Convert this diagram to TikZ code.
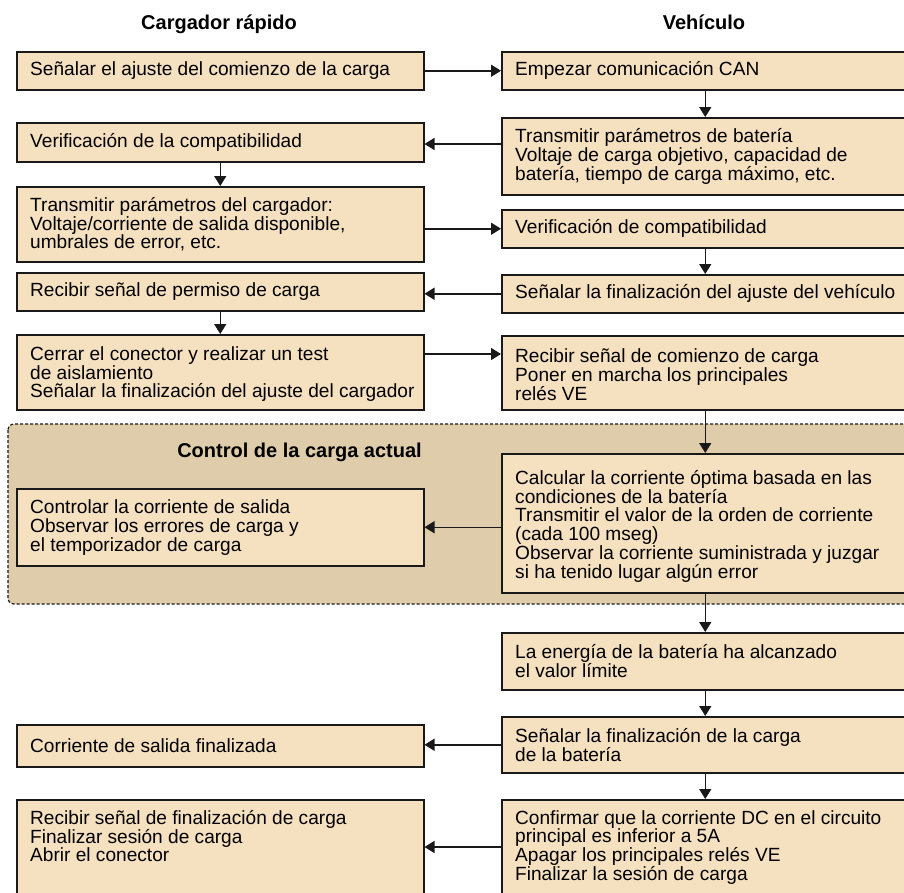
\documentclass[tikz,border=0pt]{standalone}
\usepackage{fontspec}
\setmainfont{Liberation Sans}
\usetikzlibrary{arrows.meta}
\definecolor{boxfill}{RGB}{245,224,192}
\definecolor{zonefill}{RGB}{223,204,170}
\definecolor{ink}{RGB}{25,25,25}
\begin{document}
\begin{tikzpicture}[x=1pt,y=-1pt,
  box/.style={draw=ink, line width=1.5pt, fill=boxfill, rectangle, anchor=north west,
    minimum width=407pt, inner sep=0pt},
  boxtext/.style={anchor=west, inner sep=0pt, align=left, font=\fontsize{19.1}{18.8}\selectfont},
  heading/.style={anchor=base, inner sep=0pt, font=\fontsize{20}{20}\selectfont\bfseries},
  arr/.style={draw=ink, line width=1.5pt, -{Triangle[length=10pt,width=12pt]}},
  zone/.style={draw=ink, line width=1.2pt, dash pattern=on 3pt off 2pt, fill=zonefill, rounded corners=6pt}]

\useasboundingbox (0,0) rectangle (904,892);
\fill[white] (0,0) rectangle (904,892);
\clip (0,0) rectangle (904,892);

% column headings
\node[heading] (hl) at (219,29) {Cargador rápido};
\node[heading] (hr) at (704,29) {Vehículo};

% current-control zone
\draw[zone] (8,424) rectangle (930,604);
\node[heading, anchor=base east] (hz) at (422,457) {Control de la carga actual};

% charger column: frames
\node[box, minimum height=38pt] (L1) at (16,51) {};
\node[box, minimum height=39pt] (L2) at (16,122) {};
\node[box, minimum height=75pt] (L3) at (16,186) {};
\node[box, minimum height=38pt] (L4) at (16,272) {};
\node[box, minimum height=75pt] (L5) at (16,334) {};
\node[box, minimum height=77pt] (L6) at (16,488) {};
\node[box, minimum height=42pt] (L7) at (16,724) {};
\node[box, minimum height=120pt] (L8) at (16,799) {};

% charger column: texts
\node[boxtext] (L1t) at ([xshift=14pt]L1.west) {Señalar el ajuste del comienzo de la carga};
\node[boxtext] (L2t) at ([xshift=14pt]L2.west) {Verificación de la compatibilidad};
\node[boxtext] (L3t) at ([xshift=14pt]L3.west) {Transmitir parámetros del cargador:\\Voltaje/corriente de salida disponible,\\umbrales de error, etc.};
\node[boxtext] (L4t) at ([xshift=14pt]L4.west) {Recibir señal de permiso de carga};
\node[boxtext] (L5t) at ([xshift=14pt,yshift=-2pt]L5.west) {Cerrar el conector y realizar un test\\de aislamiento\\Señalar la finalización del ajuste del cargador};
\node[boxtext] (L6t) at ([xshift=14pt]L6.west) {Controlar la corriente de salida\\Observar los errores de carga y\\el temporizador de carga};
\node[boxtext] (L7t) at ([xshift=14pt]L7.west) {Corriente de salida finalizada};
\node[boxtext, anchor=north west] (L8t) at ([xshift=14pt,yshift=-11pt]L8.north west) {Recibir señal de finalización de carga\\Finalizar sesión de carga\\Abrir el conector};

% vehicle column: frames
\node[box, minimum height=38pt] (R1) at (501,51) {};
\node[box, minimum height=77pt] (R2) at (501,117) {};
\node[box, minimum height=38pt] (R3) at (501,209) {};
\node[box, minimum height=38pt] (R4) at (501,274) {};
\node[box, minimum height=74pt] (R5) at (501,335) {};
\node[box, minimum height=139pt] (R6) at (501,453) {};
\node[box, minimum height=57pt] (R7) at (501,632) {};
\node[box, minimum height=56pt] (R8) at (501,716) {};
\node[box, minimum height=120pt] (R9) at (501,799) {};

% vehicle column: texts
\node[boxtext] (R1t) at ([xshift=14pt]R1.west) {Empezar comunicación CAN};
\node[boxtext] (R2t) at ([xshift=14pt]R2.west) {Transmitir parámetros de batería\\Voltaje de carga objetivo, capacidad de\\batería, tiempo de carga máximo, etc.};
\node[boxtext] (R3t) at ([xshift=14pt]R3.west) {Verificación de compatibilidad};
\node[boxtext] (R4t) at ([xshift=14pt]R4.west) {Señalar la finalización del ajuste del vehículo};
\node[boxtext] (R5t) at ([xshift=14pt,yshift=-2pt]R5.west) {Recibir señal de comienzo de carga\\Poner en marcha los principales\\relés VE};
\node[boxtext] (R6t) at ([xshift=14pt,yshift=-3pt]R6.west) {Calcular la corriente óptima basada en las\\condiciones de la batería\\Transmitir el valor de la orden de corriente\\(cada 100 mseg)\\Observar la corriente suministrada y juzgar\\si ha tenido lugar algún error};
\node[boxtext] (R7t) at ([xshift=14pt]R7.west) {La energía de la batería ha alcanzado\\el valor límite};
\node[boxtext] (R8t) at ([xshift=14pt]R8.west) {Señalar la finalización de la carga\\de la batería};
\node[boxtext, anchor=north west] (R9t) at ([xshift=14pt,yshift=-11pt]R9.north west) {Confirmar que la corriente DC en el circuito\\principal es inferior a 5A\\Apagar los principales relés VE\\Finalizar la sesión de carga};

% sequence within each column
\draw[arr] (L2.south) -- (L3.north);
\draw[arr] (L4.south) -- (L5.north);
\draw[arr] (R1.south) -- (R2.north);
\draw[arr] (R3.south) -- (R4.north);
\draw[arr] (R5.south) -- (R6.north);
\draw[arr] (R6.south) -- (R7.north);
\draw[arr] (R7.south) -- (R8.north);
\draw[arr] (R8.south) -- (R9.north);

% messages between charger and vehicle
\draw[arr] (L1.east) -- (R1.west);
\draw[arr] (R2.west |- 0,144) -- (L2.east |- 0,144);
\draw[arr] (L3.east |- R3.west) -- (R3.west);
\draw[arr] (R4.west) -- (L4.east |- R4.west);
\draw[arr] (L5.east |- 0,354) -- (R5.west |- 0,354);
\draw[arr] (R6.west |- L6.east) -- (L6.east);
\draw[arr] (R8.west) -- (L7.east |- R8.west);
\draw[arr] (R9.west |- 0,847) -- (L8.east |- 0,847);
\end{tikzpicture}
\end{document}
